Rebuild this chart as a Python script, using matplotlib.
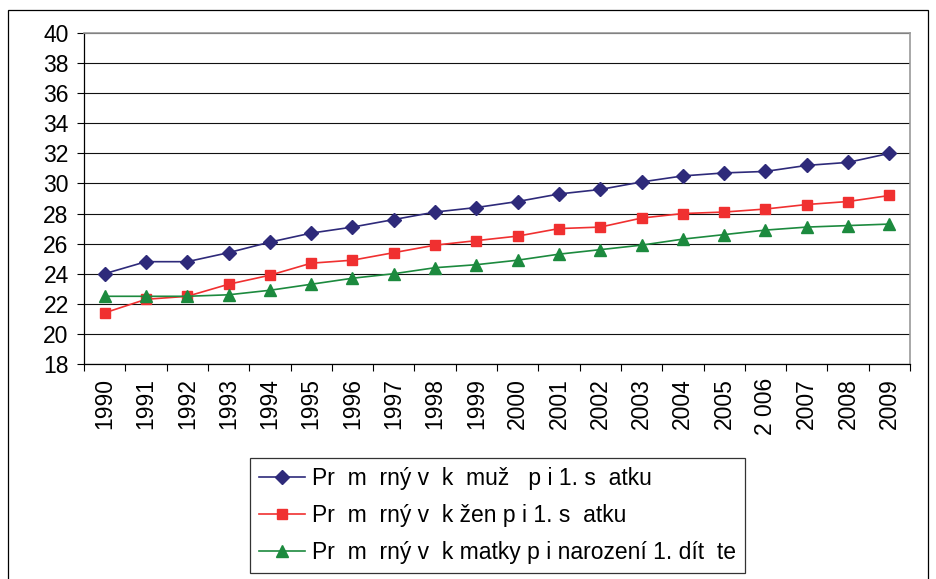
import matplotlib
matplotlib.use('Agg')
import matplotlib.pyplot as plt
from matplotlib.patches import Rectangle
import numpy as np

plt.rcParams['font.family'] = ['Liberation Sans', 'DejaVu Sans']

years = ['1990', '1991', '1992', '1993', '1994', '1995', '1996', '1997', '1998', '1999',
         '2000', '2001', '2002', '2003', '2004', '2005', '2 006', '2007', '2008', '2009']
men = [24.0, 24.8, 24.8, 25.4, 26.1, 26.7, 27.1, 27.6, 28.1, 28.4,
       28.8, 29.3, 29.6, 30.1, 30.5, 30.7, 30.8, 31.2, 31.4, 32.0]
women = [21.4, 22.3, 22.5, 23.3, 23.9, 24.7, 24.9, 25.4, 25.9, 26.2,
         26.5, 27.0, 27.1, 27.7, 28.0, 28.1, 28.3, 28.6, 28.8, 29.2]
mothers = [22.5, 22.5, 22.5, 22.6, 22.9, 23.3, 23.7, 24.0, 24.4, 24.6,
           24.9, 25.3, 25.6, 25.9, 26.3, 26.6, 26.9, 27.1, 27.2, 27.3]
labels = ['Pr  m  rný v  k  muž   p i 1. s  atku',
          'Pr  m  rný v  k žen p i 1. s  atku',
          'Pr  m  rný v  k matky p i narození 1. dít  te']

W, H = 936, 579
fig = plt.figure(figsize=(W / 100, H / 100), dpi=100)
ax = fig.add_axes([84 / W, 1 - 364 / H, 826 / W, 331 / H])

x = np.arange(len(years))
ax.plot(x, men, color='#2E2A7A', lw=1.2, marker='D', ms=7.5, label=labels[0])
ax.plot(x, women, color='#F03030', lw=1.2, marker='s', ms=6.5, label=labels[1])
ax.plot(x, mothers, color='#1C8A3E', lw=1.2, marker='^', ms=8.5, label=labels[2])

ax.set_xlim(-0.5, len(years) - 0.5)
ax.set_ylim(18, 40)
ax.set_yticks(np.arange(18, 41, 2))
ax.yaxis.grid(True, color='#111111', lw=0.8)
ax.set_axisbelow(True)

ax.set_xticks(x)
ax.set_xticklabels(years, rotation=90, va='top', ha='center')
ax.set_xticks(np.arange(-0.5, len(years), 1), minor=True)
ax.tick_params(axis='x', which='major', length=0, pad=10, labelsize=16.5)
ax.tick_params(axis='x', which='minor', length=5, width=0.8, direction='out')
ax.tick_params(axis='y', length=5, width=0.8, direction='out', pad=6, labelsize=16.5)

for side in ['left', 'bottom']:
    ax.spines[side].set_color('black')
    ax.spines[side].set_linewidth(0.9)
for side in ['top', 'right']:
    ax.spines[side].set_color('#999999')
    ax.spines[side].set_linewidth(1.2)

leg = fig.legend(loc='upper left', bbox_to_anchor=(250 / W, 1 - 458 / H),
                 fontsize=16.5, frameon=True, fancybox=False, edgecolor='black',
                 handlelength=2.0, handletextpad=0.3, labelspacing=0.6,
                 borderpad=0.4, borderaxespad=0)
leg.get_frame().set_linewidth(0.9)

# outer chart border
fig.add_artist(Rectangle((8 / W, -0.02), 920 / W, 1 - 10 / H + 0.02,
                         transform=fig.transFigure, fill=False,
                         edgecolor='black', lw=0.9))

fig.savefig('out.png', dpi=100)
